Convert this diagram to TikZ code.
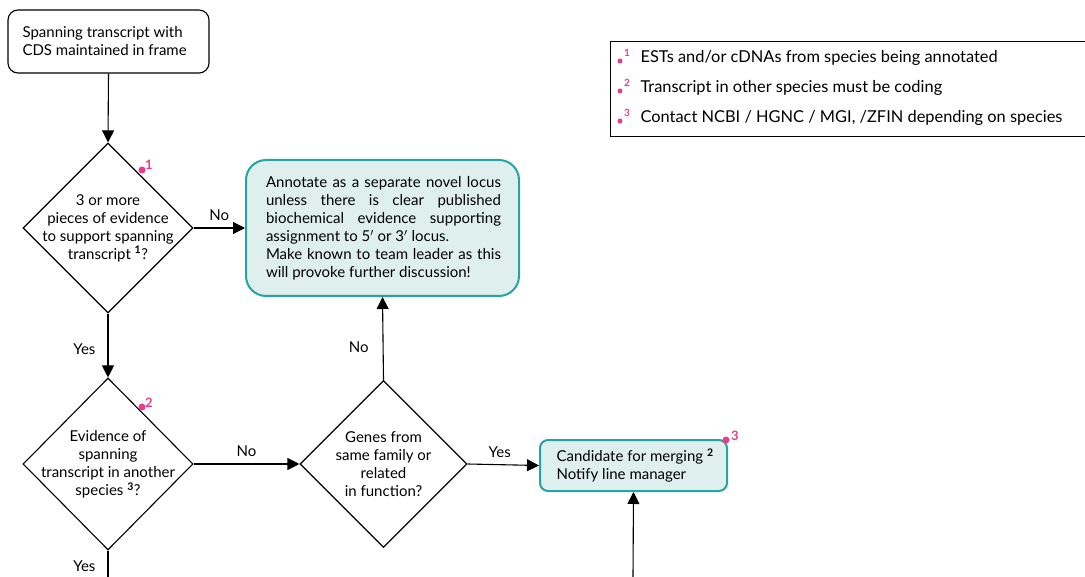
\documentclass[tikz,border=0pt]{standalone}
\usepackage{fontspec}
\setmainfont{Lato}
\usetikzlibrary{shapes.geometric,arrows.meta}
\definecolor{tealb}{HTML}{22A5A3}
\definecolor{tealf}{HTML}{DEEFEE}
\definecolor{pinkm}{HTML}{EC3B8D}
\setlength\parindent{0pt}
\begin{document}
\begin{tikzpicture}[x=1pt,y=-1pt,
  font=\fontsize{15}{18}\selectfont,
  every path/.style={line width=1.1pt},
  arr/.style={-{Triangle[length=12pt,width=12pt]}},
  startbox/.style={draw, rounded corners=10pt, minimum width=201pt, minimum height=63pt, inner sep=0pt},
  decision/.style={draw, diamond, inner sep=0pt},
  dtext/.style={align=center, inner sep=0pt},
  tealbox/.style={draw=tealb, fill=tealf, line width=2pt, inner sep=0pt},
  lbl/.style={inner sep=0pt},
  pdot/.style={circle, fill=pinkm, inner sep=0pt, minimum size=7pt},
  pnum/.style={text=pinkm, inner sep=0pt, font=\bfseries\fontsize{13}{13}\selectfont},
  lnum/.style={text=pinkm, inner sep=0pt, font=\bfseries\fontsize{10}{10}\selectfont},
  legtext/.style={anchor=west, inner sep=0pt, font=\fontsize{16.4}{18}\selectfont}
]
\useasboundingbox (0,0) rectangle (1085,577);

% start
\node[startbox] (start) at (108.5,41.5) {};
\node[align=left, anchor=west, inner sep=0pt] (starttext) at (22,41.5) {Spanning transcript with\\CDS maintained in frame};

% decision 1
\node[decision, minimum width=170pt, minimum height=170pt] (d1) at (108,228) {};
\node[dtext] (d1text) at (108,228)
  {3 or more\\pieces of evidence\\to support spanning\\transcript \textsuperscript{\bfseries 1}?};
\node[pdot] (p1) at (142,170) {};
\node[pnum] (n1) at (149,165) {1};

% teal box 1
\node[tealbox, rounded corners=20pt, minimum width=273pt, minimum height=136pt] (t1) at (382.5,228) {};
\node[text width=235pt, align=justify, inner sep=0pt] (t1text) at (383.5,228)
  {Annotate as a separate novel locus\linebreak unless there is clear published\linebreak biochemical evidence supporting\linebreak assignment to 5$'$ or 3$'$ locus.\par
   Make known to team leader as this\linebreak will provoke further discussion!};

% decision 2
\node[decision, minimum width=170pt, minimum height=172pt] (d2) at (108,464) {};
\node[dtext] (d2text) at (108,464)
  {Evidence of\\spanning\\transcript in another\\species \textsuperscript{\bfseries 3}?};
\node[pdot] (p2) at (142,407) {};
\node[pnum] (n2) at (149,403) {2};

% decision 3
\node[decision, minimum width=167pt, minimum height=167pt] (d3) at (383.5,464) {};
\node[dtext] (d3text) at (383.5,464)
  {Genes from\\same family or\\related\\in function?};

% candidate box
\node[tealbox, rounded corners=8pt, minimum width=187pt, minimum height=51pt] (cand) at (633.5,465.5) {};
\node[align=left, anchor=west, inner sep=0pt] (candtext) at (556,465.5)
  {Candidate for merging \textsuperscript{\bfseries 2}\\Notify line manager};
\node[pdot] (p3) at (726,440) {};
\node[pnum] (n3) at (735,436) {3};

% free ends
\coordinate (bottomleft) at (108,577);
\coordinate (bottomright) at (633,577);

% connectors
\draw[arr] (start.south) -- (d1.north);
\draw[arr] (d1.east) -- node[lbl, above=7pt] {No} (t1.west);
\draw[arr] (d1.south) -- node[lbl, left=12pt, pos=0.55] {Yes} (d2.north);
\draw[arr] (d2.east) -- node[lbl, above=7pt] {No} (d3.west);
\draw[arr] (d3.north) -- node[lbl, left=14pt, pos=0.4] {No} (t1.south);
\draw[arr] (d3.east) -- node[lbl, above=7pt, pos=0.45] {Yes} (cand.west);
\draw (d2.south) -- node[lbl, left=12pt, pos=0.6] {Yes} (bottomleft);
\draw[arr] (bottomright) -- (cand.south);

% legend
\coordinate (lgtr) at (1086,41);
\coordinate (lgbr) at (1086,136);
\draw[line width=0.9pt] (lgtr) -- (610,41) -- (610,136) -- (lgbr);
\node[pdot, minimum size=5pt] (l1d) at (620,61) {};
\node[lnum] (l1n) at (627,53) {1};
\node[legtext] (l1) at (640,58) {ESTs and/or cDNAs from species being annotated};
\node[pdot, minimum size=5pt] (l2d) at (620,91) {};
\node[lnum] (l2n) at (627,83) {2};
\node[legtext] (l2) at (640,88) {Transcript in other species must be coding};
\node[pdot, minimum size=5pt] (l3d) at (620,121) {};
\node[lnum] (l3n) at (627,113) {3};
\node[legtext] (l3) at (640,118) {Contact NCBI / HGNC / MGI, /ZFIN depending on species};
\end{tikzpicture}
\end{document}
